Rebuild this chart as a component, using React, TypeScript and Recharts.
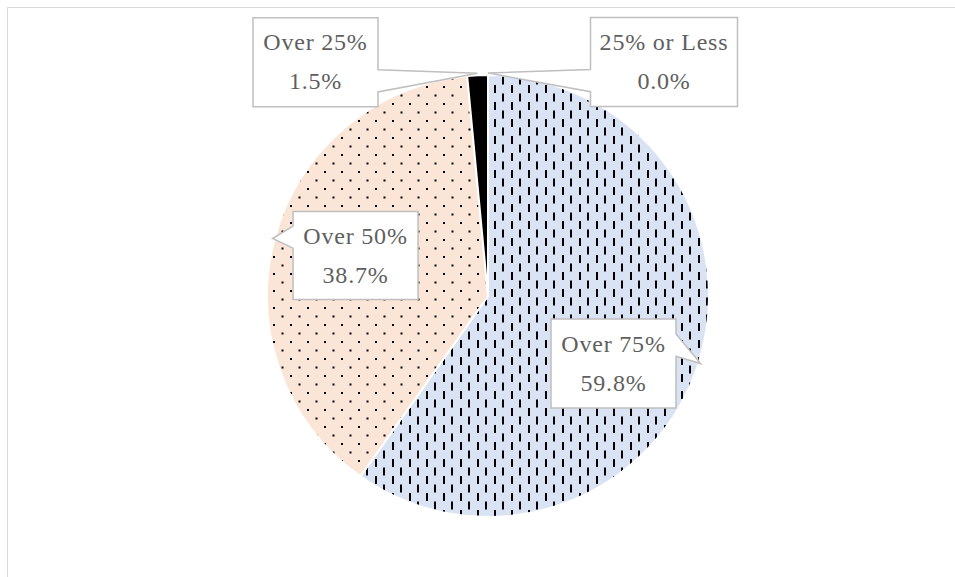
import React from "react";
import { PieChart, Pie, Cell } from "recharts";

// Share of respondents by band
const categories = ["Over 75%", "Over 50%", "Over 25%", "25% or Less"];
const shares = [59.8, 38.7, 1.5, 0.0];

const fills = ["url(#dashVertical)", "url(#dotGrid)", "#000000", "#7f7f7f"];

// where each callout box sits relative to its pointer tip (box centre offset)
const calloutOffsets = [
  { dx: -87, dy: 0 },
  { dx: 83, dy: 17 },
  { dx: -162, dy: -11 },
  { dx: 176, dy: -11 },
];
const calloutSizes = [
  { w: 125, h: 89 },
  { w: 125, h: 88 },
  { w: 125, h: 89 },
  { w: 147, h: 89 },
];

const data = categories.map((name, i) => ({ name, value: shares[i] }));

const RAD = Math.PI / 180;

// Rectangle callout with a wedge pointing at (tx, ty)
function calloutPath(x: number, y: number, w: number, h: number, tx: number, ty: number) {
  const cx = x + w / 2;
  const cy = y + h / 2;
  const dx = (tx - cx) / w;
  const dy = (ty - cy) / h;
  const r = x + w;
  const b = y + h;
  if (Math.abs(dx) >= Math.abs(dy)) {
    const y1 = ty > cy ? y + (h * 7) / 12 : y + (h * 2) / 12;
    const y2 = ty > cy ? y + (h * 10) / 12 : y + (h * 5) / 12;
    if (dx > 0) {
      return `M${x},${y} L${r},${y} L${r},${y1} L${tx},${ty} L${r},${y2} L${r},${b} L${x},${b} Z`;
    }
    return `M${x},${y} L${r},${y} L${r},${b} L${x},${b} L${x},${y2} L${tx},${ty} L${x},${y1} Z`;
  }
  const x1 = tx > cx ? x + (w * 7) / 12 : x + (w * 2) / 12;
  const x2 = tx > cx ? x + (w * 10) / 12 : x + (w * 5) / 12;
  if (dy > 0) {
    return `M${x},${y} L${r},${y} L${r},${b} L${x2},${b} L${tx},${ty} L${x1},${b} L${x},${b} Z`;
  }
  return `M${x},${y} L${x1},${y} L${tx},${ty} L${x2},${y} L${r},${y} L${r},${b} L${x},${b} Z`;
}

const textStyle = {
  fill: "#5f5f5f",
  fontFamily: "'Liberation Serif', serif",
  fontSize: 24,
  letterSpacing: 0.8,
};

const renderCallout = (props: any) => {
  const { cx, cy, midAngle, outerRadius, index, value, name } = props;
  const tx = cx + (outerRadius + 2) * Math.cos(-midAngle * RAD);
  const ty = cy + (outerRadius + 2) * Math.sin(-midAngle * RAD);
  const off = calloutOffsets[index];
  const size = calloutSizes[index];
  const bx = tx + off.dx - size.w / 2;
  const by = ty + off.dy - size.h / 2;
  const midX = bx + size.w / 2;
  const midY = by + size.h / 2;
  return (
    <g key={`callout-${index}`}>
      <path
        d={calloutPath(bx, by, size.w, size.h, tx, ty)}
        fill="#ffffff"
        stroke="#bfbfbf"
        strokeWidth={1.5}
      />
      <text x={midX} y={midY - 12} textAnchor="middle" style={textStyle}>
        {name}
      </text>
      <text x={midX} y={midY + 27} textAnchor="middle" style={textStyle}>
        {`${Number(value).toFixed(1)}%`}
      </text>
    </g>
  );
};

export default function App() {
  return (
    <div
      style={{
        position: "absolute",
        left: 0,
        top: 0,
        width: 955,
        height: 577,
        overflow: "hidden",
        background: "#ffffff",
      }}
    >
      <div
        style={{
          position: "absolute",
          left: 7,
          top: 7,
          width: 1000,
          height: 1000,
          border: "1.5px solid #d9d9d9",
        }}
      />
      <div style={{ position: "absolute", left: 0, top: 0 }}>
        <PieChart width={955} height={577} margin={{ top: 0, right: 0, bottom: 0, left: 0 }}>
          <defs>
            <pattern id="dashVertical" width={17} height={17} patternUnits="userSpaceOnUse">
              <rect width={17} height={17} fill="#dae3f3" />
              <rect x={1} y={0} width={2} height={8} fill="#000000" />
              <rect x={9} y={8.5} width={2} height={8} fill="#000000" />
            </pattern>
            <pattern id="dotGrid" width={17} height={17} patternUnits="userSpaceOnUse">
              <rect width={17} height={17} fill="#fbe5d6" />
              <rect x={1} y={1} width={2} height={2} fill="#000000" />
              <rect x={9.5} y={9.5} width={2} height={2} fill="#000000" />
            </pattern>
          </defs>
          <Pie
            data={data}
            dataKey="value"
            nameKey="name"
            cx={488}
            cy={296}
            outerRadius={221}
            startAngle={90}
            endAngle={-270}
            stroke="#ffffff"
            strokeWidth={2}
            label={renderCallout}
            labelLine={false}
            isAnimationActive={false}
          >
            {data.map((d, i) => (
              <Cell key={d.name} fill={fills[i]} />
            ))}
          </Pie>
        </PieChart>
      </div>
    </div>
  );
}
